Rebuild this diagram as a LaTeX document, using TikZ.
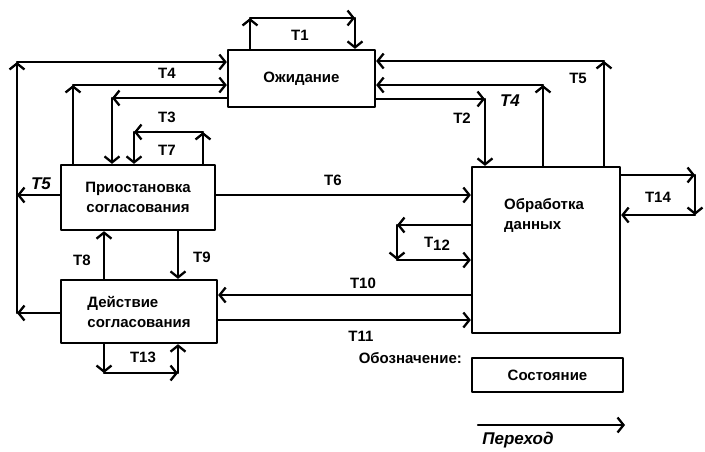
\documentclass[tikz,border=0pt]{standalone}
\usepackage{fontspec}
\setmainfont{Liberation Sans}
\usetikzlibrary{arrows.meta}

\begin{document}
\begin{tikzpicture}[x=1pt, y=-1pt, line width=2.3pt, line cap=round, line join=round,
    >={Straight Barb[length=6pt,width=15pt]},
    state/.style={draw, rectangle, inner sep=0pt, font=\fontsize{15}{20}\selectfont\bfseries},
    trans/.style={->},
    lbl/.style={inner sep=0pt, font=\fontsize{15}{20}\selectfont\bfseries},
    hand lbl/.style={inner sep=0pt, font=\fontsize{17}{20}\selectfont\bfseries\itshape}]
    \useasboundingbox (0,0) rectangle (705,451);

    % States
    \node[state, minimum width=147pt, minimum height=57pt] (wait) at (301.5,78.5) {Ожидание};
    \node[state, minimum width=154pt, minimum height=65pt, align=center] (pause) at (138,197.5) {Приостановка\\согласования};
    \node[state, minimum width=156pt, minimum height=63pt, align=left] (act) at (139,311.5) {Действие\\согласования};
    \node[state, minimum width=148pt, minimum height=166pt] (proc) at (546,250) {};
    \node[lbl, anchor=north west, align=left] (proctxt) at (503,197) {Обработка\\данных};

    % T1
    \coordinate (t1a) at (250,18);
    \coordinate (t1b) at (355,18);
    \draw[trans] (wait.north -| t1a) -- (t1a);
    \draw[trans] (t1a) -- (t1b);
    \draw[trans] (t1b) -- (wait.north -| t1b);
    \node[lbl] (t1) at (300,35) {T1};

    % Outer left loop (T4, T5)
    \coordinate (lo) at (17,313);
    \coordinate (lt) at (17,62);
    \coordinate (t5l) at (17,195);
    \draw[trans] (act.west |- lo) -- (lo);
    \draw[trans] (lo) -- (lt);
    \draw[trans] (lt) -- (wait.west |- lt);
    \draw[trans] (pause.west |- t5l) -- (t5l);
    \node[lbl] (t4) at (167,73) {T4};
    \node[hand lbl] (t5) at (41,184) {T5};

    % Inner left line to Ozhidanie
    \coordinate (t4a) at (73,85);
    \draw[trans] (pause.north -| t4a) -- (t4a);
    \draw[trans] (t4a) -- (wait.west |- t4a);

    % T3
    \coordinate (t3a) at (112,98);
    \draw[trans] (wait.west |- t3a) -- (t3a);
    \draw[trans] (t3a) -- (pause.north -| t3a);
    \node[lbl] (t3) at (167,117) {T3};

    % T7
    \coordinate (t7a) at (203,132);
    \coordinate (t7b) at (134,132);
    \draw[trans] (pause.north -| t7a) -- (t7a);
    \draw[trans] (t7a) -- (t7b);
    \draw[trans] (t7b) -- (pause.north -| t7b);
    \node[lbl] (t7) at (167,150) {T7};

    % T5 (right)
    \coordinate (t5a) at (604,61);
    \draw[trans] (proc.north -| t5a) -- (t5a);
    \draw[trans] (t5a) -- (wait.east |- t5a);
    \node[lbl] (t5r) at (578,78) {T5};

    % T4 (right)
    \coordinate (t4b) at (543,85);
    \draw[trans] (proc.north -| t4b) -- (t4b);
    \draw[trans] (t4b) -- (wait.east |- t4b);
    \node[hand lbl] (t4r) at (510,101) {T4};

    % T2
    \coordinate (t2a) at (485,99);
    \draw[trans] (wait.east |- t2a) -- (t2a);
    \draw[trans] (t2a) -- (proc.north -| t2a);
    \node[lbl] (t2) at (462,118) {T2};

    % T6, T10, T11
    \coordinate (t6a) at (340,195);
    \coordinate (t10a) at (340,295);
    \coordinate (t11a) at (340,320);
    \draw[trans] (pause.east |- t6a) -- (proc.west |- t6a);
    \draw[trans] (proc.west |- t10a) -- (act.east |- t10a);
    \draw[trans] (act.east |- t11a) -- (proc.west |- t11a);
    \node[lbl] (t6) at (333,180) {T6};
    \node[lbl] (t10) at (363,283) {T10};
    \node[lbl] (t11) at (361,336) {T11};

    % T12
    \coordinate (t12a) at (397,225);
    \coordinate (t12b) at (397,260);
    \draw[trans] (proc.west |- t12a) -- (t12a);
    \draw[trans] (t12a) -- (t12b);
    \draw[trans] (t12b) -- (proc.west |- t12b);
    \node[lbl] (t12) at (437,244) {T\raisebox{-0.4ex}{12}};

    % T14
    \coordinate (t14a) at (695,175);
    \coordinate (t14b) at (695,215);
    \draw[trans] (proc.east |- t14a) -- (t14a);
    \draw[trans] (t14a) -- (t14b);
    \draw[trans] (t14b) -- (proc.east |- t14b);
    \node[lbl] (t14) at (658,197) {T14};

    % T8, T9, T13
    \coordinate (t13a) at (104,373);
    \coordinate (t13b) at (178,373);
    \draw[trans] (act.north -| t13a) -- (pause.south -| t13a);
    \draw[trans] (pause.south -| t13b) -- (act.north -| t13b);
    \draw[trans] (act.south -| t13a) -- (t13a);
    \draw[trans] (t13a) -- (t13b);
    \draw[trans] (t13b) -- (act.south -| t13b);
    \node[lbl] (t8) at (82,260) {T8};
    \node[lbl] (t9) at (202,257) {T9};
    \node[lbl] (t13) at (143,357) {T13};

    % Legend
    \node[lbl, anchor=east] (legtitle) at (463,358) {Обозначение:};
    \node[state, minimum width=151pt, minimum height=34pt] (legstate) at (547.5,375) {Состояние};
    \coordinate (legA) at (478,425);
    \coordinate (legB) at (625,425);
    \draw[trans] (legA) -- (legB);
    \node[hand lbl] (legtr) at (518,440) {Переход};
\end{tikzpicture}
\end{document}
